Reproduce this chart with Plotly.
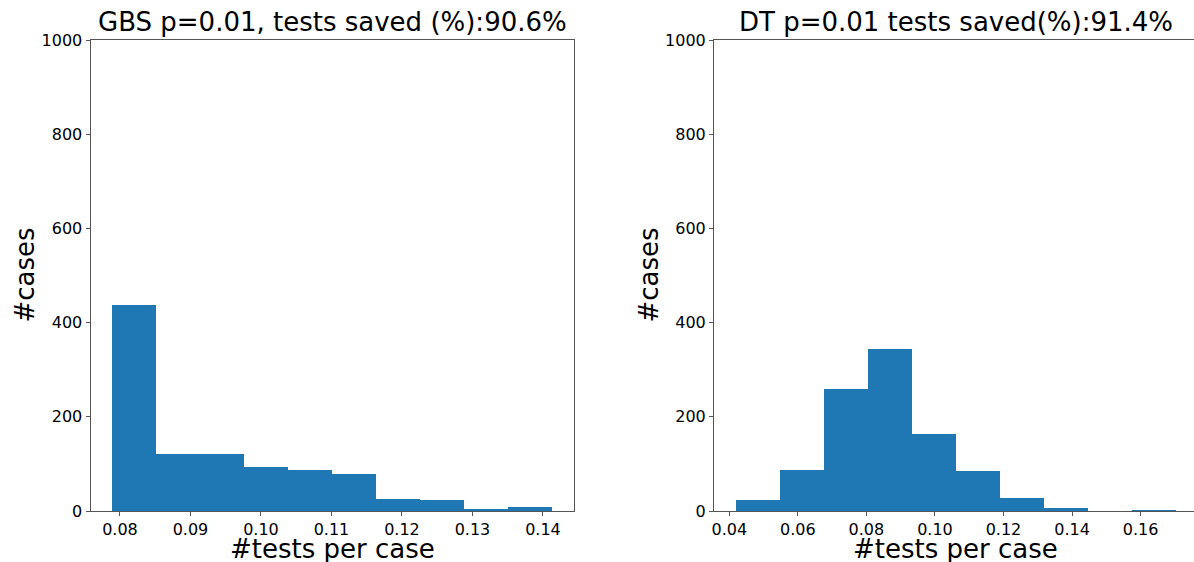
import plotly.graph_objects as go

# ---- data ----
gbs_edges_lo = 0.0788
gbs_edges_hi = 0.1412
gbs_counts = [438, 120, 120, 93, 88, 79, 25, 23, 5, 9]

dt_edges_lo = 0.0419
dt_edges_hi = 0.1702
dt_counts = [24, 88, 259, 345, 164, 84, 28, 6, 0, 2]

gbs_title = "GBS p=0.01, tests saved (%):90.6%"
dt_title = "DT p=0.01 tests saved(%):91.4%"
x_label = "#tests per case"
y_label = "#cases"

gbs_xticks = [0.08, 0.09, 0.10, 0.11, 0.12, 0.13, 0.14]
dt_xticks = [0.04, 0.06, 0.08, 0.10, 0.12, 0.14, 0.16]
y_ticks = [0, 200, 400, 600, 800, 1000]

W, H = 1194, 562
BLUE = "#1f77b4"
FONT = "DejaVu Sans"


def bins(lo, hi, counts):
    n = len(counts)
    w = (hi - lo) / n
    centers = [lo + w * (i + 0.5) for i in range(n)]
    return centers, w


fig = go.Figure()
c1, w1 = bins(gbs_edges_lo, gbs_edges_hi, gbs_counts)
c2, w2 = bins(dt_edges_lo, dt_edges_hi, dt_counts)
fig.add_trace(go.Bar(x=c1, y=gbs_counts, width=w1, marker=dict(color=BLUE, line=dict(width=0)),
                     xaxis="x", yaxis="y", showlegend=False))
fig.add_trace(go.Bar(x=c2, y=dt_counts, width=w2, marker=dict(color=BLUE, line=dict(width=0)),
                     xaxis="x2", yaxis="y2", showlegend=False))

top_px, bot_px = 40, 511
ydom = [1 - bot_px / H, 1 - top_px / H]
l1 = [90.5 / W, 573.5 / W]
l2 = [714 / W, 1.0]

axis_common = dict(showline=True, linecolor="#555", linewidth=1, ticks="outside",
                   ticklen=4, tickcolor="#555", tickfont=dict(size=16, color="black", family=FONT),
                   showgrid=False, zeroline=False, automargin=False)

fig.update_layout(
    width=W, height=H,
    margin=dict(l=0, r=0, t=0, b=0, autoexpand=False),
    paper_bgcolor="white", plot_bgcolor="white",
    bargap=0,
    font=dict(family=FONT, color="black"),
    xaxis=dict(domain=l1, range=[0.07582, 0.14433], tickvals=gbs_xticks, tickformat=".2f",
               mirror=True, anchor="y", **axis_common),
    yaxis=dict(domain=ydom, range=[0, 1000], tickvals=y_ticks, mirror=True, anchor="x", **axis_common),
    xaxis2=dict(domain=l2, range=[0.03554, 0.17558], tickvals=dt_xticks, tickformat=".2f",
                mirror=True, anchor="y2", **axis_common),
    yaxis2=dict(domain=ydom, range=[0, 1000], tickvals=y_ticks, mirror=False, anchor="x2", **axis_common),
)

ann = []
for dom, title in [(l1, gbs_title), (l2, dt_title)]:
    cx = (dom[0] + dom[1]) / 2
    if dom is l2:
        cx = (714 + 1197.5) / 2 / W
    ann.append(dict(text=title, x=cx, y=ydom[1] + 1 / H, xref="paper", yref="paper",
                    xanchor="center", yanchor="bottom", showarrow=False,
                    font=dict(size=26, family=FONT, color="black")))
    ann.append(dict(text=x_label, x=cx, y=ydom[0] - 21 / H, xref="paper", yref="paper",
                    xanchor="center", yanchor="top", showarrow=False,
                    font=dict(size=26, family=FONT, color="black")))
ann.append(dict(text=y_label, x=24 / W, y=sum(ydom) / 2, xref="paper", yref="paper",
                xanchor="center", yanchor="middle", textangle=-90, showarrow=False,
                font=dict(size=26, family=FONT, color="black")))
ann.append(dict(text=y_label, x=648 / W, y=sum(ydom) / 2, xref="paper", yref="paper",
                xanchor="center", yanchor="middle", textangle=-90, showarrow=False,
                font=dict(size=26, family=FONT, color="black")))
fig.update_layout(annotations=ann)

fig.write_html("out.html")
